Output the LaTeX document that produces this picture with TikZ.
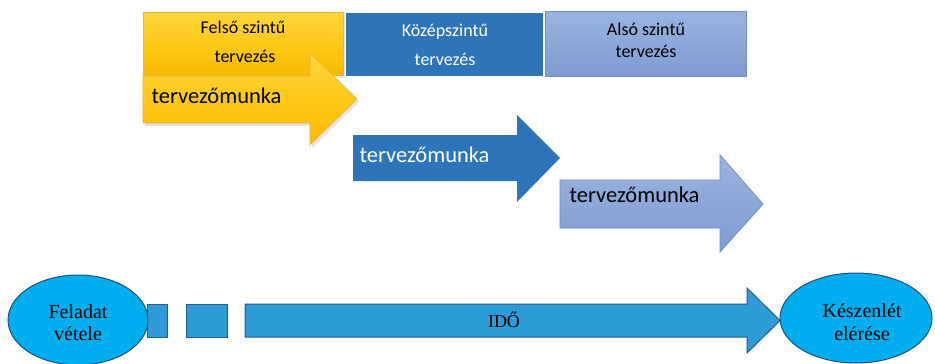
\documentclass[tikz,border=0pt]{standalone}
\usepackage{fontspec}
\setmainfont{Liberation Serif}
\newfontfamily\calib{Carlito}
\usetikzlibrary{shadows}
\definecolor{goldA}{HTML}{FFD63A}
\definecolor{goldB}{HTML}{FFC81A}
\definecolor{goldC}{HTML}{F7BA00}
\definecolor{goldE}{HTML}{E6B440}
\definecolor{midblue}{HTML}{2E74B8}
\definecolor{paleA}{HTML}{9AB4E0}
\definecolor{paleB}{HTML}{7E9CD2}
\definecolor{paleE}{HTML}{6E8FC8}
\definecolor{cyanfill}{HTML}{00AEEF}
\definecolor{navy}{HTML}{1F4E79}
\definecolor{timebar}{HTML}{2C9BD6}
\definecolor{timeedge}{HTML}{1F5E8E}
\tikzset{
  goldshape/.style={top color=goldA, bottom color=goldC, middle color=goldB,
    draw=goldE, line width=0.6pt,
    drop shadow={shadow xshift=2pt, shadow yshift=-3pt, opacity=0.22}},
  darkshape/.style={fill=midblue, draw=none},
  paleshape/.style={top color=paleA, bottom color=paleB, draw=paleE, line width=0.8pt},
  levellabel/.style={font=\calib\fontsize{18}{20}\selectfont, anchor=base},
  worklabel/.style={font=\calib\fontsize{22.5}{24}\selectfont, anchor=base west},
  endpoint/.style={fill=cyanfill, draw=navy, line width=1pt},
  endlabel/.style={font=\fontsize{20}{22}\selectfont, anchor=base},
  timeshape/.style={fill=timebar, draw=timeedge, line width=1pt}
}
\begin{document}
\begin{tikzpicture}[x=1pt, y=-1pt]
\useasboundingbox (0,0) rectangle (935,364);

% planning levels
\path[goldshape] (143,12) rectangle (343,75);
\path[darkshape] (346,13) rectangle (543,76);
\path[paleshape] (545,11) rectangle (746,76);

\node[levellabel] (felso1) at (243,33) {Felső szintű};
\node[levellabel] (felso2) at (245,62) {tervezés};
\node[levellabel, text=white] (kozep1) at (445,36) {Középszintű};
\node[levellabel, text=white] (kozep2) at (445,65) {tervezés};
\node[levellabel] (also1) at (646,35) {Alsó szintű};
\node[levellabel] (also2) at (646,57) {tervezés};

% design work arrows
\path[goldshape] (143,76) -- (310,76) -- (310,53) -- (357,99) -- (310,145)
  -- (310,123) -- (143,123) -- cycle;
\node[worklabel] (work1) at (148,103) {tervezőmunka};

\path[darkshape] (353,135) -- (517,135) -- (517,115) -- (560,158) -- (517,202)
  -- (517,181) -- (353,181) -- cycle;
\node[worklabel, text=white] (work2) at (356,162) {tervezőmunka};

\path[paleshape] (560,180) -- (720,180) -- (720,155) -- (763,204) -- (720,252)
  -- (720,228) -- (560,228) -- cycle;
\node[worklabel] (work3) at (566,202) {tervezőmunka};

% time axis
\path[timeshape] (147,304) rectangle (167,337);
\path[timeshape] (186,304) rectangle (227,337);
\path[timeshape] (245,304) -- (747,304) -- (747,288) -- (780,320.5) -- (747,353)
  -- (747,337) -- (245,337) -- cycle;
\node[endlabel, font=\fontsize{18}{20}\selectfont] (ido) at (504,327) {IDŐ};

\path[endpoint] (78,320) ellipse [x radius=70, y radius=45];
\node[endlabel] (start1) at (78,318) {Feladat};
\node[endlabel] (start2) at (78,340) {vétele};

\path[endpoint] (856,318) ellipse [x radius=76, y radius=45];
\node[endlabel] (end1) at (862,317) {Készenlét};
\node[endlabel] (end2) at (862,340) {elérése};
\end{tikzpicture}
\end{document}
